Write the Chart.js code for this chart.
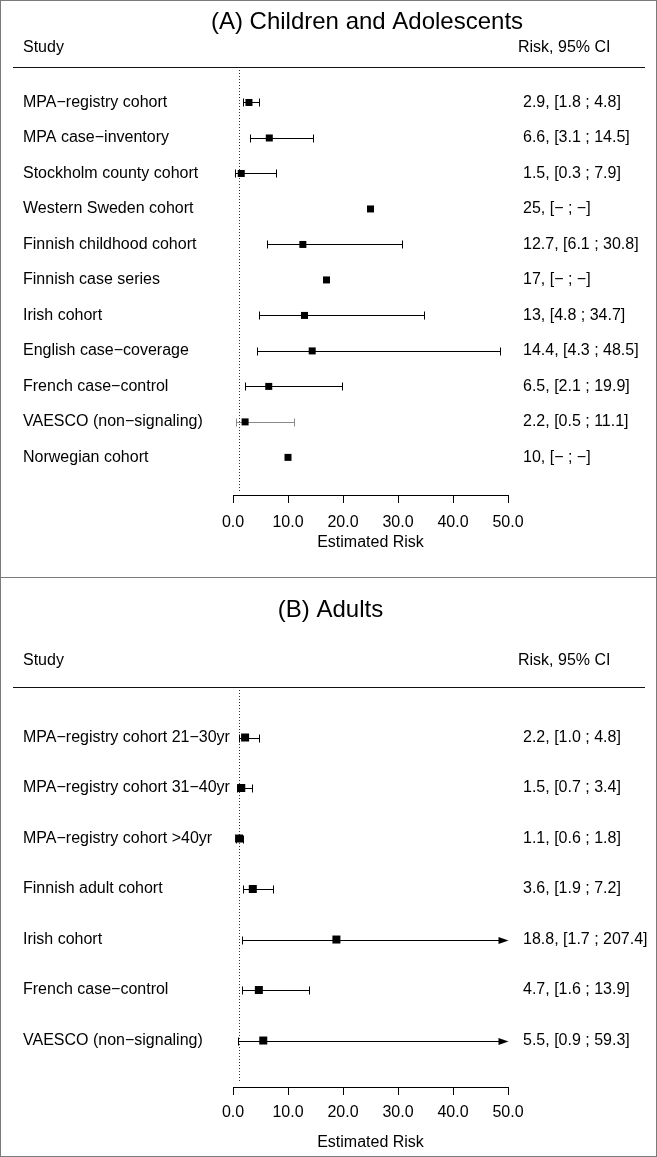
<!DOCTYPE html>
<html>
<head>
<meta charset="utf-8">
<script src="https://cdn.jsdelivr.net/npm/chart.js@4/dist/chart.umd.min.js"></script>
<style>
  html, body { margin: 0; padding: 0; background: #fff; }
  #wrap { position: relative; width: 657px; height: 1157px; overflow: hidden; }
  canvas { position: absolute; left: 0; }
  .frame { position: absolute; left: 0; width: 657px; box-sizing: border-box; border: 1px solid #7a7a7a; pointer-events: none; }
</style>
</head>
<body>
<div id="wrap">
  <canvas id="cA" width="657" height="577" style="top:0"></canvas>
  <canvas id="cB" width="657" height="580" style="top:577px"></canvas>
  <div class="frame" style="top:0;height:578px"></div>
  <div class="frame" style="top:577px;height:580px"></div>
</div>
<script>
// ---------- data ----------
const titleA = "(A) Children and Adolescents";
const titleB = "(B) Adults";
const headerLeft = "Study";
const headerRight = "Risk, 95% CI";
const axisTitle = "Estimated Risk";
const xTicks = [0, 10, 20, 30, 40, 50];
const xTickLabels = ["0.0", "10.0", "20.0", "30.0", "40.0", "50.0"];
const refValue = 1;

const studiesA = [
  "MPA\u2212registry cohort",
  "MPA case\u2212inventory",
  "Stockholm county cohort",
  "Western Sweden cohort",
  "Finnish childhood cohort",
  "Finnish case series",
  "Irish cohort",
  "English case\u2212coverage",
  "French case\u2212control",
  "VAESCO (non\u2212signaling)",
  "Norwegian cohort"
];
const estA = [2.9, 6.6, 1.5, 25, 12.7, 17, 13, 14.4, 6.5, 2.2, 10];
const lowA = [1.8, 3.1, 0.3, null, 6.1, null, 4.8, 4.3, 2.1, 0.5, null];
const upA  = [4.8, 14.5, 7.9, null, 30.8, null, 34.7, 48.5, 19.9, 11.1, null];
const ciTextA = [
  "2.9, [1.8 ; 4.8]",
  "6.6, [3.1 ; 14.5]",
  "1.5, [0.3 ; 7.9]",
  "25, [\u2212 ; \u2212]",
  "12.7, [6.1 ; 30.8]",
  "17, [\u2212 ; \u2212]",
  "13, [4.8 ; 34.7]",
  "14.4, [4.3 ; 48.5]",
  "6.5, [2.1 ; 19.9]",
  "2.2, [0.5 ; 11.1]",
  "10, [\u2212 ; \u2212]"
];

const studiesB = [
  "MPA\u2212registry cohort 21\u221230yr",
  "MPA\u2212registry cohort 31\u221240yr",
  "MPA\u2212registry cohort >40yr",
  "Finnish adult cohort",
  "Irish cohort",
  "French case\u2212control",
  "VAESCO (non\u2212signaling)"
];
const estB = [2.2, 1.5, 1.1, 3.6, 18.8, 4.7, 5.5];
const lowB = [1.0, 0.7, 0.6, 1.9, 1.7, 1.6, 0.9];
const upB  = [4.8, 3.4, 1.8, 7.2, 207.4, 13.9, 59.3];
const ciTextB = [
  "2.2, [1.0 ; 4.8]",
  "1.5, [0.7 ; 3.4]",
  "1.1, [0.6 ; 1.8]",
  "3.6, [1.9 ; 7.2]",
  "18.8, [1.7 ; 207.4]",
  "4.7, [1.6 ; 13.9]",
  "5.5, [0.9 ; 59.3]"
];

// ---------- rendering ----------
const FONT = '"Liberation Sans", Arial, Helvetica, sans-serif';
Chart.defaults.font.family = FONT;
Chart.defaults.font.size = 16;
Chart.defaults.color = '#000';

function forestPlugin(cfg) {
  return {
    id: 'forest' + cfg.key,
    beforeDatasetsDraw(chart) {
      const { ctx, chartArea: ca, scales: { x, y } } = chart;
      ctx.save();
      // reference (null-effect) line
      const rx = Math.round(x.getPixelForValue(refValue)) + 0.5;
      ctx.strokeStyle = '#333';
      ctx.lineWidth = 1;
      ctx.setLineDash([1, 2]);
      ctx.beginPath();
      ctx.moveTo(rx, ca.top);
      ctx.lineTo(rx, ca.bottom - cfg.refGap);
      ctx.stroke();
      ctx.setLineDash([]);
      // confidence intervals
      cfg.low.forEach((lo, i) => {
        const hi = cfg.up[i];
        if (lo == null || hi == null) return;
        const col = cfg.grey.includes(i) ? '#8a8a8a' : '#000';
        ctx.strokeStyle = col;
        ctx.fillStyle = col;
        ctx.lineWidth = 1;
        const py = Math.round(y.getPixelForValue(i + 1)) + 0.5;
        const x1 = Math.round(x.getPixelForValue(Math.max(lo, x.min))) + 0.5;
        const over = hi > x.max;
        const x2 = Math.round(x.getPixelForValue(Math.min(hi, x.max))) + 0.5;
        ctx.beginPath();
        ctx.moveTo(x1, py);
        ctx.lineTo(over ? x2 - 9 : x2, py);
        ctx.moveTo(x1, py - 4);
        ctx.lineTo(x1, py + 4);
        if (!over) {
          ctx.moveTo(x2, py - 4);
          ctx.lineTo(x2, py + 4);
        }
        ctx.stroke();
        if (over) {
          ctx.beginPath();
          ctx.moveTo(x2, py);
          ctx.lineTo(x2 - 10, py - 3.5);
          ctx.lineTo(x2 - 10, py + 3.5);
          ctx.closePath();
          ctx.fill();
        }
      });
      ctx.restore();
    },
    afterDraw(chart) {
      const { ctx } = chart;
      ctx.save();
      ctx.fillStyle = '#000';
      ctx.textBaseline = 'middle';
      ctx.textAlign = 'center';
      ctx.font = '24px ' + FONT;
      ctx.fillText(cfg.title, cfg.titleX, cfg.titleY);
      ctx.font = '16px ' + FONT;
      ctx.textAlign = 'left';
      ctx.fillText(headerLeft, 23, cfg.headY);
      ctx.fillText(headerRight, 518, cfg.headY);
      ctx.strokeStyle = '#111';
      ctx.lineWidth = 1;
      ctx.beginPath();
      ctx.moveTo(13, cfg.ruleY + 0.5);
      ctx.lineTo(645, cfg.ruleY + 0.5);
      ctx.stroke();
      ctx.restore();
    }
  };
}

function makeForest(canvasId, o) {
  const n = o.studies.length;
  return new Chart(document.getElementById(canvasId), {
    type: 'scatter',
    data: {
      datasets: [{
        data: o.est.map((v, i) => ({ x: v, y: i + 1 })),
        pointStyle: 'rect',
        pointRadius: o.radius,
        pointHoverRadius: o.radius,
        backgroundColor: '#000',
        borderWidth: 0
      }]
    },
    options: {
      responsive: false,
      animation: false,
      events: [],
      layout: { padding: { left: 23, right: 0, top: o.top, bottom: 0 } },
      plugins: { legend: { display: false }, tooltip: { enabled: false } },
      scales: {
        x: {
          type: 'linear', min: 0, max: 50,
          afterBuildTicks: s => { s.ticks = xTicks.map(v => ({ value: v })); },
          afterFit: s => { s.height = o.xHeight; },
          ticks: { autoSkip: false, maxRotation: 0, padding: o.tickPad,
                   callback: (v, i) => xTickLabels[i], color: '#000', font: { size: 16 } },
          grid: { drawOnChartArea: false, drawTicks: true, tickLength: 8, color: '#000', lineWidth: 1 },
          border: { display: true, color: '#000', width: 1 },
          title: { display: true, text: axisTitle, color: '#000', font: { size: 16 },
                   padding: { top: 0, bottom: o.titlePad } }
        },
        y: {
          type: 'linear', position: 'left', reverse: true, min: 0, max: o.ymax,
          afterBuildTicks: s => { s.ticks = o.studies.map((_, i) => ({ value: i + 1 })); },
          afterFit: s => { s.width = 210; },
          ticks: { autoSkip: false, crossAlign: 'far', padding: 0,
                   callback: (v, i) => o.studies[i], color: '#000', font: { size: 16 } },
          grid: { display: false, drawTicks: false },
          border: { display: false }
        },
        y2: {
          type: 'linear', position: 'right', reverse: true, min: 0, max: o.ymax,
          afterBuildTicks: s => { s.ticks = o.ci.map((_, i) => ({ value: i + 1 })); },
          afterFit: s => { s.width = 149; },
          ticks: { autoSkip: false, crossAlign: 'near', padding: o.ciPad,
                   callback: (v, i) => o.ci[i], color: '#000', font: { size: 16 } },
          grid: { display: false, drawTicks: false },
          border: { display: false }
        }
      }
    },
    plugins: [forestPlugin({
      key: canvasId, title: o.title, titleX: o.titleX, titleY: o.titleY,
      headY: o.headY, ruleY: o.top, refGap: o.refGap,
      low: o.low, up: o.up, grey: o.grey
    })]
  });
}

makeForest('cA', {
  studies: studiesA, est: estA, low: lowA, up: upA, ci: ciTextA,
  title: titleA, titleX: 367, titleY: 22, headY: 48,
  top: 67, ymax: 12.06, xHeight: 82, tickPad: 10.4, titlePad: 24.4,
  ciPad: 15, radius: 4.95, refGap: 2, grey: [9]
});

makeForest('cB', {
  studies: studiesB, est: estB, low: lowB, up: upB, ci: ciTextB,
  title: titleB, titleX: 330.5, titleY: 33, headY: 84,
  top: 110, ymax: 7.92, xHeight: 70, tickPad: 8.4, titlePad: 4.4,
  ciPad: 15, radius: 5.66, refGap: 4, grey: []
});
</script>
</body>
</html>
